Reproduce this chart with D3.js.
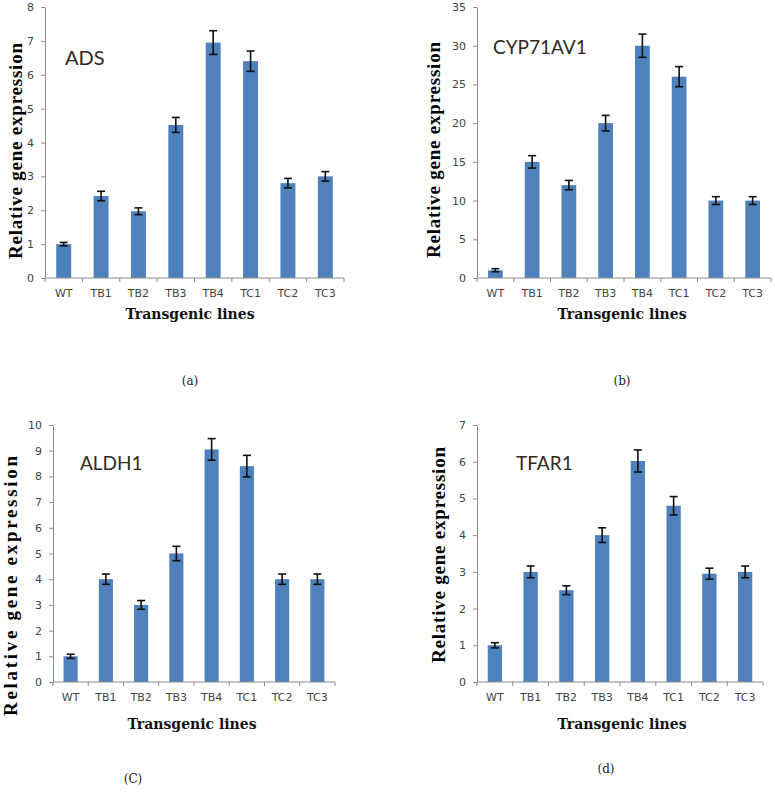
<!DOCTYPE html>
<html><head><meta charset="utf-8">
<script src="https://cdn.jsdelivr.net/npm/d3@7/dist/d3.min.js"></script>
<style>body{margin:0;background:#fff}svg{display:block}</style>
</head><body>
<svg id="c" width="775" height="810"></svg>
<script>
const categories = ["WT","TB1","TB2","TB3","TB4","TC1","TC2","TC3"];
const adsValues    = [1.0, 2.42, 1.97, 4.52, 6.95, 6.40, 2.80, 3.00];
const adsErrors    = [0.05, 0.14, 0.10, 0.22, 0.35, 0.30, 0.14, 0.14];
const cypValues    = [1.0, 15.0, 12.0, 20.0, 30.0, 26.0, 10.0, 10.0];
const cypErrors    = [0.2, 0.8, 0.6, 1.0, 1.5, 1.3, 0.5, 0.5];
const aldhValues   = [1.0, 4.0, 3.0, 5.0, 9.05, 8.4, 4.0, 4.0];
const aldhErrors   = [0.08, 0.2, 0.17, 0.28, 0.42, 0.42, 0.2, 0.2];
const tfarValues   = [1.0, 3.0, 2.5, 4.0, 6.02, 4.8, 2.95, 3.0];
const tfarErrors   = [0.07, 0.16, 0.12, 0.2, 0.3, 0.25, 0.15, 0.16];
const yMaxes = [8, 35, 10, 7];
const yTickSteps = [1, 5, 1, 1];
const geneNames = ["ADS","CYP71AV1","ALDH1","TFAR1"];
const captions = ["(a)","(b)","(C)","(d)"];
const xTitle = "Transgenic lines";
const yTitle = "Relative gene expression";

const panels = [
  {vals: adsValues, errs: adsErrors, x0:45, x1:344, yTop:7, yBot:278, gx:65, gy:58, gs:20, ylx:15, yly:151, yll:216, xtx:190, xty:314, capx:190, capy:381},
  {vals: cypValues, errs: cypErrors, x0:477, x1:771, yTop:7, yBot:278, gx:493, gy:47, gs:19, ylx:433, yly:150, yll:216, xtx:622, xty:314, capx:622, capy:381},
  {vals: aldhValues, errs: aldhErrors, x0:53, x1:335, yTop:425, yBot:682, gx:80, gy:463, gs:19, ylx:10, yly:586, yll:260, xtx:192, xty:724, capx:133, capy:779},
  {vals: tfarValues, errs: tfarErrors, x0:477, x1:763, yTop:425, yBot:682, gx:516, gy:463, gs:19, ylx:438, yly:555, yll:216, xtx:622, xty:724, capx:606, capy:769}
];

const svg = d3.select("#c");
const axisColor = "#8c8c8c";
const barColor = "#4f81bd";

panels.forEach((p, i) => {
  const g = svg.append("g");
  const x = d3.scaleBand().domain(categories).range([p.x0, p.x1]).paddingInner(0.6).paddingOuter(0.3);
  const y = d3.scaleLinear().domain([0, yMaxes[i]]).range([p.yBot, p.yTop]);
  const data = categories.map((c, k) => ({c, v: p.vals[k], e: p.errs[k]}));

  g.selectAll("rect.bar").data(data).enter().append("rect")
    .attr("x", d => x(d.c)).attr("width", x.bandwidth())
    .attr("y", d => y(d.v)).attr("height", d => y(0) - y(d.v))
    .attr("fill", barColor);

  const eb = g.selectAll("g.err").data(data).enter().append("g")
    .attr("stroke", "#111").attr("stroke-width", 1.6);
  const cx = d => x(d.c) + x.bandwidth() / 2;
  eb.append("line").attr("x1", cx).attr("x2", cx)
    .attr("y1", d => y(d.v + d.e)).attr("y2", d => y(d.v - d.e));
  eb.append("line").attr("x1", d => cx(d) - 4).attr("x2", d => cx(d) + 4)
    .attr("y1", d => y(d.v + d.e)).attr("y2", d => y(d.v + d.e));
  eb.append("line").attr("x1", d => cx(d) - 4).attr("x2", d => cx(d) + 4)
    .attr("y1", d => y(d.v - d.e)).attr("y2", d => y(d.v - d.e));

  const ticks = d3.range(0, yMaxes[i] + 0.001, yTickSteps[i]);
  const ya = g.append("g").attr("transform", `translate(${p.x0},0)`)
    .call(d3.axisLeft(y).tickValues(ticks).tickFormat(d3.format("d")).tickSize(4).tickPadding(7).tickSizeOuter(0));
  ya.select(".domain").attr("stroke", axisColor);
  ya.selectAll(".tick line").attr("stroke", axisColor);
  ya.selectAll(".tick text").attr("fill", "#444").style("font-family", "DejaVu Sans, sans-serif").style("font-size", "11px");

  const xa = g.append("g").attr("transform", `translate(0,${p.yBot})`);
  xa.append("line").attr("x1", p.x0).attr("x2", p.x1).attr("y1", 0).attr("y2", 0).attr("stroke", axisColor);
  const step = (p.x1 - p.x0) / categories.length;
  xa.selectAll("line.t").data(d3.range(categories.length + 1)).enter().append("line")
    .attr("x1", k => p.x0 + k * step).attr("x2", k => p.x0 + k * step)
    .attr("y1", 0).attr("y2", 4).attr("stroke", axisColor);
  xa.selectAll("text").data(categories).enter().append("text")
    .attr("x", c => x(c) + x.bandwidth() / 2).attr("y", 19)
    .attr("text-anchor", "middle").attr("fill", "#444")
    .style("font-family", "DejaVu Sans, sans-serif").style("font-size", "11px")
    .text(c => c);

  g.append("text").attr("x", p.gx).attr("y", p.gy).attr("dy", "0.35em")
    .attr("fill", "#2e2a22").style("font-family", "Lato, 'Open Sans', sans-serif").style("font-size", p.gs + "px")
    .text(geneNames[i]);

  g.append("text").attr("transform", `translate(${p.ylx},${p.yly}) rotate(-90)`)
    .attr("text-anchor", "middle").attr("dy", "0.35em").attr("fill", "#000")
    .attr("textLength", p.yll).attr("lengthAdjust", "spacing")
    .style("font-family", "'Liberation Serif', serif").style("font-weight", "bold").style("font-size", "19px")
    .text(yTitle);
  g.append("text").attr("x", p.xtx).attr("y", p.xty).attr("dy", "0.35em").attr("text-anchor", "middle")
    .attr("fill", "#111").style("font-family", "'DejaVu Serif', serif").style("font-weight", "bold").style("font-size", "14px")
    .text(xTitle);

  g.append("text").attr("x", p.capx).attr("y", p.capy).attr("dy", "0.35em").attr("text-anchor", "middle")
    .attr("fill", "#222").style("font-family", "'DejaVu Serif', serif").style("font-size", "12px")
    .text(captions[i]);
});
</script>
</body></html>
